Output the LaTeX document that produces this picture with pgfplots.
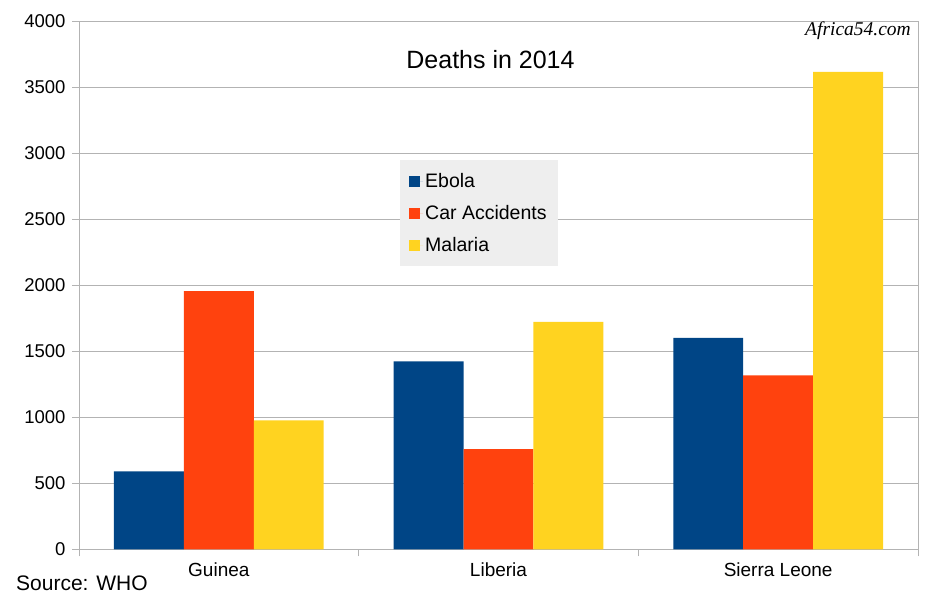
\documentclass[border=0pt]{standalone}
\usepackage{pgfplots}
\pgfplotsset{compat=1.18}
\usepackage{fontspec}
\setmainfont{Liberation Sans}
\newfontfamily\serifit{Liberation Serif}
\definecolor{cEbola}{HTML}{004586}
\definecolor{cCar}{HTML}{FF420E}
\definecolor{cMal}{HTML}{FFD320}
\definecolor{cGrid}{HTML}{B3B3B3}
\definecolor{cLeg}{HTML}{EEEEEE}
\begin{document}
\begin{tikzpicture}[x=1pt,y=1pt]
\useasboundingbox (0,0) rectangle (936,605);
\begin{axis}[
  at={(79pt,55.7pt)}, anchor=south west,
  width=839pt, height=528pt, scale only axis,
  ymin=0, ymax=4000,
  xmin=-0.5, xmax=2.5,
  ytick={0,500,...,4000},
  xtick={0,1,2},
  xticklabels={Guinea,Liberia,Sierra Leone},
  minor xtick={-0.5,0.5,1.5,2.5},
  major x tick style={draw=none},
  minor tick length=7pt,
  major tick length=7pt,
  tick align=outside,
  tick pos=left,
  tick style={cGrid, line width=1pt},
  axis line style={cGrid, line width=1pt},
  ymajorgrids,
  grid style={cGrid, line width=1pt},
  ticklabel style={font=\fontsize{18.5}{20}\selectfont},
  yticklabel style={xshift=-3pt},
  xticklabel style={font=\fontsize{19}{21}\selectfont, yshift=-3pt},
  /pgf/number format/assume math mode=true,
  yticklabel={\pgfmathprintnumber[fixed,use comma,1000 sep={}]{\tick}},
  bar width=0.25,
  legend style={at={(rel axis cs:0.3826,0.7373)}, anchor=north west,
    fill=cLeg, draw=none, font=\fontsize{19.5}{21}\selectfont,
    inner xsep=9pt, inner ysep=11pt, row sep=12.5pt,
    cells={anchor=west}},
  legend image code/.code={\fill[#1,draw=none] (0pt,-5.5pt) rectangle (11pt,5.5pt);
    \path (0pt,0pt) -- (14pt,0pt);},
  clip=false,
]
\addplot[ybar, bar shift=-0.25, fill=cEbola, draw=none] coordinates {(0,591) (1,1424) (2,1601)};
\addplot[ybar, bar shift=0, fill=cCar, draw=none] coordinates {(0,1955) (1,758) (2,1318)};
\addplot[ybar, bar shift=0.25, fill=cMal, draw=none] coordinates {(0,977) (1,1722) (2,3616)};
\legend{Ebola,Car Accidents,Malaria}
\end{axis}
\node[anchor=base, font=\fontsize{25}{27}\selectfont] at (490.5,536) {Deaths in 2014};
\node[anchor=base east, inner sep=0pt, font=\serifit\itshape\fontsize{19.5}{21}\selectfont] at (911,569) {Africa54.com};
\node[anchor=base west, inner sep=0pt, font=\fontsize{21}{23}\selectfont] at (16,15) {Source: WHO};
\end{tikzpicture}
\end{document}
